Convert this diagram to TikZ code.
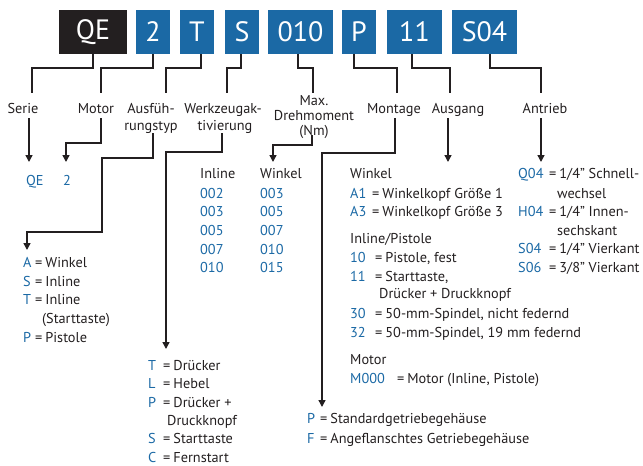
\documentclass[tikz,border=0pt]{standalone}
\usepackage{fontspec}
\setmainfont{PT Sans}
\usetikzlibrary{arrows.meta}
\definecolor{qblue}{RGB}{27,105,165}
\definecolor{qblack}{RGB}{35,31,32}
\definecolor{qtext}{RGB}{35,31,32}
\newcommand\ent[3]{\makebox[#1][l]{\textcolor{qblue}{#2}}=\hspace{3pt}#3}
\begin{document}
\begin{tikzpicture}[x=1pt,y=-1pt,
 box/.style={fill=qblue,text=white,minimum height=44pt,inner sep=0pt,font=\fontsize{28}{30}\selectfont},
 lbl/.style={anchor=base,inner sep=0pt,text=qtext,font=\fontsize{14.3}{16}\selectfont},
 item/.style={anchor=base west,inner sep=0pt,text=qtext,font=\fontsize{14.3}{16}\selectfont},
 code/.style={item,text=qblue},
 conn/.style={line width=1.4pt,draw=qtext},
 arr/.style={conn,-{Triangle[length=7pt,width=7pt]}},
]
\useasboundingbox (0,0) rectangle (643,466);
% boxes
\node[box,fill=qblack,minimum width=68pt] (bQE) at (93,32) {QE};
\node[box,minimum width=34pt] (b2) at (153,32) {2};
\node[box,minimum width=34pt] (bT) at (197,32) {T};
\node[box,minimum width=34pt] (bS) at (242,32) {S};
\node[box,minimum width=65pt] (b010) at (300.5,32) {010};
\node[box,minimum width=34pt] (bP) at (359,32) {P};
\node[box,minimum width=55pt] (b11) at (414.5,32) {11};
\node[box,minimum width=65pt] (bS04) at (484.5,32) {S04};
% labels
\node[lbl] (lSerie) at (23,113) {Serie};
\node[lbl] (lMotor) at (96,113) {Motor};
\node[lbl] (lAusf1) at (151,113) {Ausfüh-};
\node[lbl] (lAusf2) at (151,130) {rungstyp};
\node[lbl] (lWerk1) at (223,113) {Werkzeugak-};
\node[lbl] (lWerk2) at (225,130) {tivierung};
\node[lbl] (lMax1) at (314,105) {Max.};
\node[lbl] (lMax2) at (314,120) {Drehmoment};
\node[lbl] (lMax3) at (314,135) {(Nm)};
\node[lbl] (lMont) at (394,113) {Montage};
\node[lbl] (lAusg) at (458,113) {Ausgang};
\node[lbl] (lAntr) at (545,113) {Antrieb};
% top connectors
\draw[conn] (bQE.south) |- (32,68) -- (32,93);
\draw[conn] (b2.south) |- (101,68) -- (101,93);
\draw[conn] ([xshift=4pt]bT.south) |- (166,68) -- (166,93);
\draw[conn] ([xshift=-1pt]bS.south) |- (227,68) -- (227,93);
\draw[conn] ([xshift=-2.5pt]b010.south) |- (313,68) -- (313,93);
\draw[conn] ([xshift=-5pt]bP.south) |- (397,68) -- (397,93);
\draw[conn] ([xshift=-2.5pt]b11.south) |- (450,68) -- (450,93);
\draw[conn] ([xshift=5.5pt]bS04.south) |- (541,68) -- (541,93);
% bottom connectors
\draw[arr] (29,118) -- (29,162);
\draw[arr] (101,118) -- (101,143) -- (66,143) -- (66,162);
\draw[arr] (153,133) -- (153,158) -- (102,158) -- (102,232) -- (27,232) -- (27,250);
\draw[arr] (222,133) -- (222,152) -- (166,152) -- (166,349);
\draw[arr] (312,135) -- (312,145) -- (273,145) -- (273,162);
\draw[arr] (395,118) -- (395,153) -- (322,153) -- (322,407);
\draw[arr] (448,118) -- (448,162);
\draw[arr] (541,118) -- (541,162);
% serie / motor values
\node[code] (vQE) at (26,185) {QE};
\node[code] (v2) at (63,185) {2};
% torque
\node[item] (tIn) at (200,178) {Inline};
\node[item] (tWi) at (260,178) {Winkel};
\node[code] (ti1) at (200,198) {002};
\node[code] (ti2) at (200,216) {003};
\node[code] (ti3) at (200,235) {005};
\node[code] (ti4) at (200,254) {007};
\node[code] (ti5) at (200,272) {010};
\node[code] (tw1) at (260,198) {003};
\node[code] (tw2) at (260,216) {005};
\node[code] (tw3) at (260,235) {007};
\node[code] (tw4) at (260,254) {010};
\node[code] (tw5) at (260,272) {015};
% Ausfuehrungstyp
\node[item] (aA) at (23,267) {\ent{12pt}{A}{Winkel}};
\node[item] (aS) at (23,286) {\ent{12pt}{S}{Inline}};
\node[item] (aT) at (23,304) {\ent{12pt}{T}{Inline}};
\node[item] (aT2) at (42,323) {(Starttaste)};
\node[item] (aP) at (23,342) {\ent{12pt}{P}{Pistole}};
% Werkzeugaktivierung
\node[item] (wT) at (148,370) {\ent{15pt}{T}{Drücker}};
\node[item] (wL) at (148,388) {\ent{15pt}{L}{Hebel}};
\node[item] (wP) at (148,407) {\ent{15pt}{P}{Drücker +}};
\node[item] (wP2) at (167,425) {Druckknopf};
\node[item] (wS) at (148,443) {\ent{15pt}{S}{Starttaste}};
\node[item] (wC) at (148,462) {\ent{15pt}{C}{Fernstart}};
% Montage
\node[item] (mP) at (307,423) {\ent{13pt}{P}{Standardgetriebegehäuse}};
\node[item] (mF) at (307,443) {\ent{13pt}{F}{Angeflanschtes Getriebegehäuse}};
% Ausgang
\node[item] (gW) at (350,178) {Winkel};
\node[item] (gA1) at (350,198) {\ent{22pt}{A1}{Winkelkopf Größe 1}};
\node[item] (gA3) at (350,216) {\ent{22pt}{A3}{Winkelkopf Größe 3}};
\node[item] (gIP) at (350,243) {Inline/Pistole};
\node[item] (g10) at (350,262) {\ent{25pt}{10}{Pistole, fest}};
\node[item] (g11) at (350,281) {\ent{25pt}{11}{Starttaste,}};
\node[item] (g11b) at (379,298) {Drücker + Druckknopf};
\node[item] (g30) at (350,318) {\ent{25pt}{30}{50-mm-Spindel, nicht federnd}};
\node[item] (g32) at (350,337) {\ent{25pt}{32}{50-mm-Spindel, 19 mm federnd}};
\node[item] (gM) at (350,364) {Motor};
\node[item] (gM0) at (350,383) {\ent{47pt}{M000}{Motor (Inline, Pistole)}};
% Antrieb
\node[item] (dQ) at (518,178) {\ent{31pt}{Q04}{1/4” Schnell-}};
\node[item] (dQ2) at (557,198) {wechsel};
\node[item] (dH) at (518,216) {\ent{31pt}{H04}{1/4” Innen-}};
\node[item] (dH2) at (557,235) {sechskant};
\node[item] (dS4) at (518,253) {\ent{31pt}{S04}{1/4” Vierkant}};
\node[item] (dS6) at (518,272) {\ent{31pt}{S06}{3/8” Vierkant}};
\end{tikzpicture}
\end{document}
